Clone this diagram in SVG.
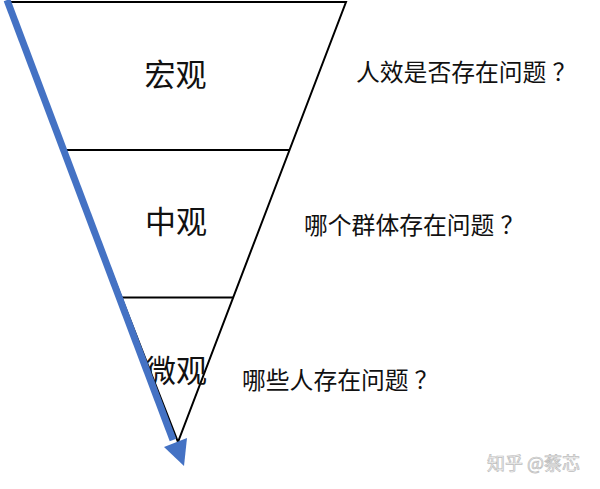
<svg xmlns="http://www.w3.org/2000/svg" width="600" height="489" viewBox="0 0 600 489">
<style>
.edge{fill:none;stroke:#000;stroke-width:2}
.lbl{font-family:"Noto Sans CJK SC","Noto Sans",sans-serif;fill:#111}
.big{font-size:31px}
.q{font-size:23.8px}
.wm{font-family:"Noto Sans CJK SC",sans-serif;font-size:18px;fill:#f4f4f4;stroke:#bdbdbd;stroke-width:0.7}
</style>
<rect width="600" height="489" fill="#fff"/>
<g id="funnel">
<polygon class="edge" points="6,2 346,2 178,442"/>
</g>
<g id="tier-macro">
<text class="lbl big" x="175.5" y="86" text-anchor="middle">宏观</text>
<text class="lbl q" x="356" y="81">人效是否存在问题<tspan dx="6">？</tspan></text>
</g>
<g id="tier-meso">
<line class="edge" x1="64" y1="150" x2="289" y2="150"/>
<text class="lbl big" x="176" y="233" text-anchor="middle">中观</text>
<text class="lbl q" x="304" y="234">哪个群体存在问题<tspan dx="6">？</tspan></text>
</g>
<g id="tier-micro">
<line class="edge" x1="122" y1="297.5" x2="233" y2="297.5"/>
<text class="lbl big" x="176" y="382" text-anchor="middle">微观</text>
<text class="lbl q" x="242" y="389">哪些人存在问题<tspan dx="6">？</tspan></text>
</g>
<g id="connectors">
<line x1="7" y1="0" x2="173" y2="440" stroke="#4472C4" stroke-width="7"/>
<polygon points="184,466 187,438 164,447" fill="#4472C4"/>
</g>
<text class="wm" x="487" y="470">知乎 @蔡芯</text>
</svg>
